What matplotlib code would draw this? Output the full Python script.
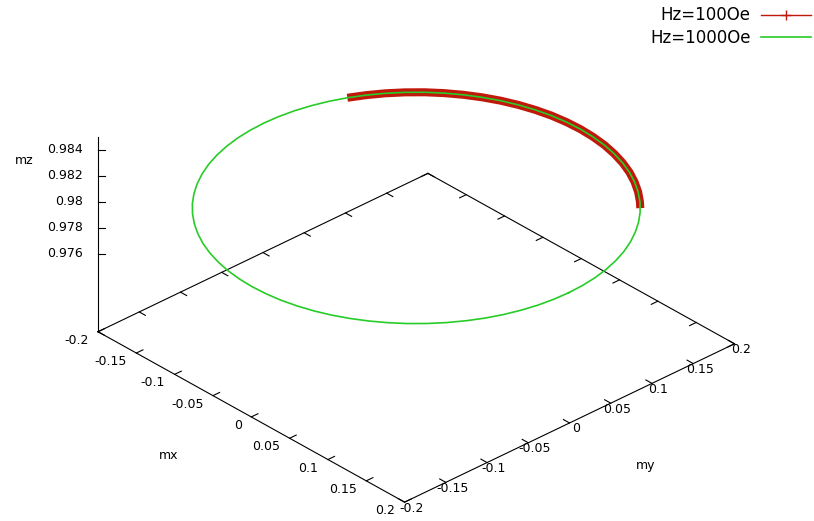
import numpy as np
import matplotlib
matplotlib.use("Agg")
import matplotlib.pyplot as plt
from matplotlib.lines import Line2D
from mpl_toolkits.mplot3d import proj3d

# magnetisation trajectory, Hz = 1000 Oe (one full precession turn)
mx_1000 = [0.1990, 0.1982, 0.1960, 0.1922, 0.1870, 0.1804, 0.1723, 0.1630, 0.1524, 0.1407,
           0.1279, 0.1141, 0.0995, 0.0841, 0.0681, 0.0515, 0.0346, 0.0173, 0.0000,
           -0.0173, -0.0346, -0.0515, -0.0681, -0.0841, -0.0995, -0.1141, -0.1279, -0.1407,
           -0.1524, -0.1630, -0.1723, -0.1804, -0.1870, -0.1922, -0.1960, -0.1982, -0.1990,
           -0.1982, -0.1960, -0.1922, -0.1870, -0.1804, -0.1723, -0.1630, -0.1524, -0.1407,
           -0.1279, -0.1141, -0.0995, -0.0841, -0.0681, -0.0515, -0.0346, -0.0173, 0.0000,
           0.0173, 0.0346, 0.0515, 0.0681, 0.0841, 0.0995, 0.1141, 0.1279, 0.1407,
           0.1524, 0.1630, 0.1723, 0.1804, 0.1870, 0.1922, 0.1960, 0.1982, 0.1990]
my_1000 = [0.0000, 0.0173, 0.0346, 0.0515, 0.0681, 0.0841, 0.0995, 0.1141, 0.1279, 0.1407,
           0.1524, 0.1630, 0.1723, 0.1804, 0.1870, 0.1922, 0.1960, 0.1982, 0.1990,
           0.1982, 0.1960, 0.1922, 0.1870, 0.1804, 0.1723, 0.1630, 0.1524, 0.1407,
           0.1279, 0.1141, 0.0995, 0.0841, 0.0681, 0.0515, 0.0346, 0.0173, 0.0000,
           -0.0173, -0.0346, -0.0515, -0.0681, -0.0841, -0.0995, -0.1141, -0.1279, -0.1407,
           -0.1524, -0.1630, -0.1723, -0.1804, -0.1870, -0.1922, -0.1960, -0.1982, -0.1990,
           -0.1982, -0.1960, -0.1922, -0.1870, -0.1804, -0.1723, -0.1630, -0.1524, -0.1407,
           -0.1279, -0.1141, -0.0995, -0.0841, -0.0681, -0.0515, -0.0346, -0.0173, 0.0000]
mz_1000 = [0.98] * len(mx_1000)

# magnetisation trajectory, Hz = 100 Oe
mx_100 = [0.1357, 0.1279, 0.1141, 0.0995, 0.0841, 0.0681, 0.0515, 0.0346, 0.0173, 0.0000,
          -0.0173, -0.0346, -0.0515, -0.0681, -0.0841, -0.0995, -0.1141, -0.1279, -0.1407,
          -0.1524, -0.1630, -0.1723, -0.1804]
my_100 = [0.1455, 0.1524, 0.1630, 0.1723, 0.1804, 0.1870, 0.1922, 0.1960, 0.1982, 0.1990,
          0.1982, 0.1960, 0.1922, 0.1870, 0.1804, 0.1723, 0.1630, 0.1524, 0.1407,
          0.1279, 0.1141, 0.0995, 0.0841]
mz_100 = [0.98] * len(mx_100)

x_ticks = [-0.2, -0.15, -0.1, -0.05, 0, 0.05, 0.1, 0.15, 0.2]
x_labels = ["-0.2", "-0.15", "-0.1", "-0.05", "0", "0.05", "0.1", "0.15", "0.2"]
y_ticks = [-0.2, -0.15, -0.1, -0.05, 0, 0.05, 0.1, 0.15, 0.2]
y_labels = ["-0.2", "-0.15", "-0.1", "-0.05", "0", "0.05", "0.1", "0.15", "0.2"]
z_ticks = [0.976, 0.978, 0.98, 0.982, 0.984]
z_labels = ["0.976", "0.978", "0.98", "0.982", "0.984"]

xr = (-0.2, 0.2)
yr = (-0.2, 0.2)
zr = (0.975, 0.985)
ticslevel = 0.5
zbase = zr[0] - ticslevel * (zr[1] - zr[0])

RED = "#c0180a"
GREEN = "#28cc28"

W, H = 814, 521
fig = plt.figure(figsize=(W / 100, H / 100), dpi=100)
ax = fig.add_axes([0, 0, 1, 1], projection="3d", proj_type="ortho", computed_zorder=False)
ax.set_axis_off()
azim, elev = -42.9, 31.1
ax.view_init(elev=elev, azim=azim)
ax.set_box_aspect((1, 1, 0.505))
ax.set_xlim(*xr)
ax.set_ylim(*yr)
ax.set_zlim(zbase, zr[1])


def to_px(x, y, z):
    px, py, _ = proj3d.proj_transform(np.atleast_1d(x), np.atleast_1d(y),
                                      np.atleast_1d(z), ax.get_proj())
    return ax.transData.transform(np.column_stack([px, py]))


# place the base box: corners -> pixel positions on the canvas
ax.apply_aspect()
corners = np.array([(xr[0], yr[0], zbase), (xr[1], yr[0], zbase), (xr[1], yr[1], zbase),
                    (xr[0], yr[1], zbase), (xr[0], yr[0], zr[1])])
frame = np.array([(98, 332), (405, 502), (735, 343), (427, 174), (98, 137)], float)
frame[:, 1] = H - frame[:, 1]
cur = to_px(*corners.T)
n = len(cur)
A = np.zeros((2 * n, 3))
b = np.zeros(2 * n)
A[0::2, 0], A[0::2, 1], b[0::2] = cur[:, 0], 1, frame[:, 0]
A[1::2, 0], A[1::2, 2], b[1::2] = cur[:, 1], 1, frame[:, 1]
s, tx, ty = np.linalg.lstsq(A, b, rcond=None)[0]
bb = ax.bbox
ax.set_position([(s * bb.x0 + tx) / W, (s * bb.y0 + ty) / H, s * bb.width / W, s * bb.height / H])
ax.apply_aspect()

line_kw = dict(color="black", lw=0.8, zorder=1, clip_on=False)

# base square and z axis
ax.plot([xr[0], xr[1], xr[1], xr[0], xr[0]], [yr[0], yr[0], yr[1], yr[1], yr[0]],
        [zbase] * 5, **line_kw)
ax.plot([xr[0], xr[0]], [yr[0], yr[0]], [zbase, zr[1]], **line_kw)

tl = 0.02
tlx = tl * (xr[1] - xr[0])
tly = tl * (yr[1] - yr[0])


def label(x, y, z, s, dx, dy, ha, size=9):
    # text placed at the projected point, shifted by (dx, dy) pixels
    px, py = to_px(x, y, z)[0]
    fig.text((px + dx) / W, (py + dy) / H, s, ha=ha, va="center", fontsize=size)


for t, lab in zip(x_ticks, x_labels):
    ax.plot([t, t], [yr[0], yr[0] + tly], [zbase, zbase], **line_kw)
    ax.plot([t, t], [yr[1], yr[1] - tly], [zbase, zbase], **line_kw)
    label(t, yr[0], zbase, lab, -9.5, -8.5, "right")

for t, lab in zip(y_ticks, y_labels):
    ax.plot([xr[1], xr[1] - tlx], [t, t], [zbase, zbase], **line_kw)
    ax.plot([xr[0], xr[0] + tlx], [t, t], [zbase, zbase], **line_kw)
    label(xr[1], t, zbase, lab, 6.5, -6, "center")

# z ticks point to the screen right
zdx = -np.sin(np.radians(azim)) * 0.8 * tlx
zdy = np.cos(np.radians(azim)) * 0.8 * tly
for t, lab in zip(z_ticks, z_labels):
    ax.plot([xr[0], xr[0] + zdx], [yr[0], yr[0] + zdy], [t, t], **line_kw)
    label(xr[0], yr[0], t, lab, -15, 0, "right")

label(0, yr[0], zbase, "mx", -82.5, -39, "center")
label(xr[1], 0, zbase, "my", 76, -42.5, "center")
label(xr[0], yr[0], zr[1], "mz", -73.5, -24, "center")

# data
ax.plot(mx_100, my_100, mz_100, color=RED, lw=5.8, solid_capstyle="butt",
        zorder=2, clip_on=False)
ax.plot(mx_1000, my_1000, mz_1000, color=GREEN, lw=1.2, zorder=3, clip_on=False)

handles = [Line2D([], [], color=RED, lw=1.0, marker="+", ms=7, mew=1.0),
           Line2D([], [], color=GREEN, lw=1.2)]
fig.legend(handles, ["Hz=100Oe", "Hz=1000Oe"], loc="upper right", bbox_to_anchor=(1.0, 0.994),
           frameon=False, markerfirst=False, fontsize=12, handlelength=3.0,
           handletextpad=0.6, labelspacing=0.25, borderaxespad=0.1, borderpad=0.1)

fig.savefig("out.png", dpi=100)
